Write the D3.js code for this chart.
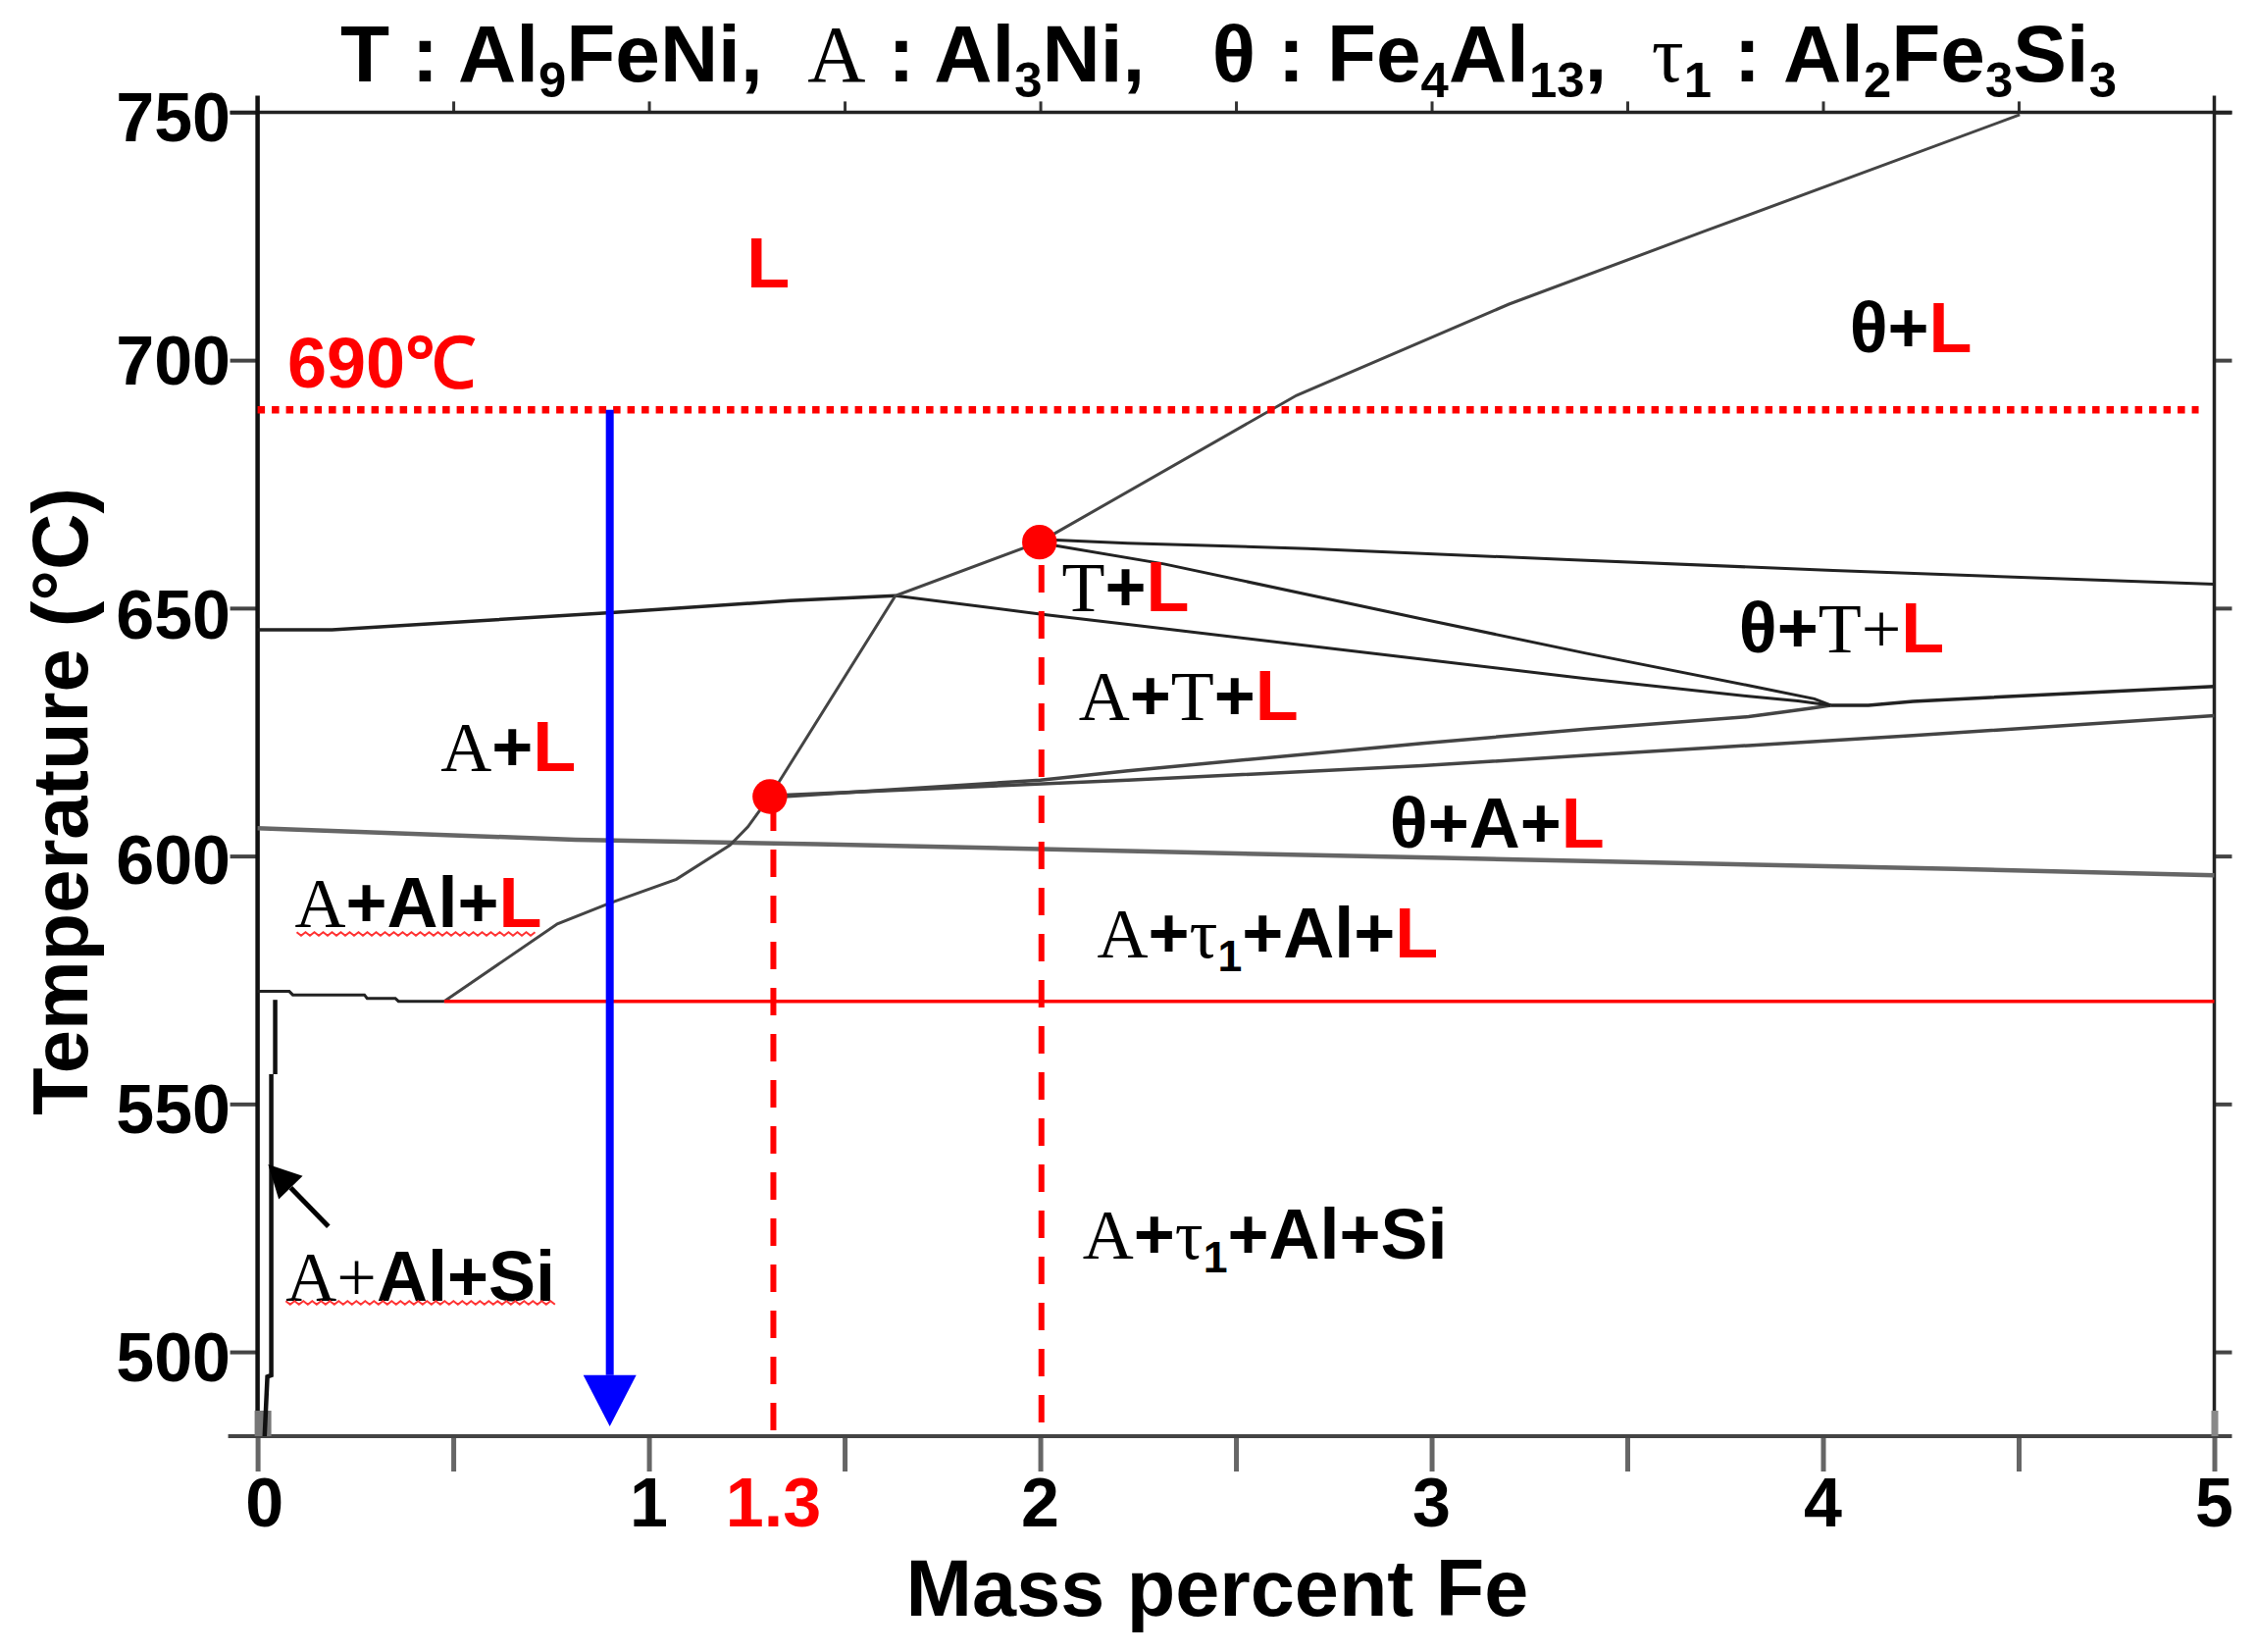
<!DOCTYPE html>
<html><head><meta charset="utf-8">
<script src="https://cdn.jsdelivr.net/npm/d3@7"></script>
<style>
html,body{margin:0;padding:0;background:#fff}
svg{display:block}
text{white-space:pre}
</style></head><body><svg id="c" width="2299" height="1684"></svg>
<script>
// ---- data (mass % Fe, temperature °C) ----
const xMajorTicks=[0,1,2,3,4,5];
const xAllTicks=[0,0.5,1,1.5,2,2.5,3,3.5,4,4.5,5];
const yTicks=[750,700,650,600,550,500];
const liquidusLow=[[0.477,570.7],[0.766,586.3],[0.9,590.5],[1.07,595.3],[1.207,602.2],[1.253,605.9],[1.309,612],[1.63,652.5],[1.998,663.3]];
const liquidusHigh=[[1.998,663.3],[2.655,692.9],[3.198,711.3],[3.694,725.9],[4.503,749.5]];
const line650=[[0,645.6],[0.19,645.6],[0.904,649.1],[1.36,651.5],[1.63,652.5]];
const lineDown=[[1.63,652.5],[2,648.8],[2.224,646.7],[2.976,639.7],[3.394,635.8],[3.81,632.2],[3.936,631.3],[4.02,630.4]];
const thetaTop=[[2.04,663.7],[2.224,663.1],[2.683,662],[3.365,659.7],[4.026,657.6],[5,654.8]];
const tLower=[[2.04,662.6],[2.316,658.9],[2.976,647.8],[3.394,640.9],[3.81,634.4],[3.978,631.7],[4.02,630.4]];
const rightUpper=[[4.02,630.4],[4.116,630.4],[4.23,631.2],[5,634.2]];
const riseUpper=[[1.345,612],[2,615.3],[2.224,617.2],[2.976,622.7],[3.394,625.6],[3.81,628.1],[3.895,629],[3.978,629.9],[4.02,630.4]];
const riseLower=[[1.345,612.3],[2.224,615.3],[2.976,618.2],[3.394,620.3],[3.81,622.3],[4.23,624.3],[5,628.3]];
const line606=[[0,605.6],[0.812,603.3],[1.43,602.4],[2.224,601],[3.03,599.6],[4.337,597.4],[5,596.1]];
const solvus=[[0,572.7],[0.081,572.7],[0.09,572],[0.273,572],[0.28,571.3],[0.352,571.3],[0.36,570.7],[0.477,570.7]];
const narrowUpper=[[0.045,571],[0.045,556]];
const narrowLower=[[0.035,556],[0.035,495.3],[0.025,495],[0.018,483]];
const eutectic=[[0.477,570.7],[5,570.7]];
const hold690=[[0,690],[4.96,690]];
const redDots=[[1.309,612],[1.998,663.3]];
const dropLines=[[1.318,610.6,484],[2.003,658.7,484]];
const coolingPath=[[0.9,690],[0.9,495.3]];
const coolingTip=[0.9,485];
const pointerArrow=[[0.181,525.3],[0.027,537.8]];
// label runs: b bold black, s serif black, r bold red, u subscript
const titleRuns=[["T : Al","b"],["9","u"],["FeNi,  ","b"],["A","s"],[" : Al","b"],["3","u"],["Ni,   θ : Fe","b"],["4","u"],["Al","b"],["13","u"],[",  ","b"],["τ","s"],["1","u"],[" : Al","b"],["2","u"],["Fe","b"],["3","u"],["Si","b"],["3","u"]];
const regionRuns=[
 [[["L","r"]],1.25,714.6],
 [[["690℃","r"]],0.076,694.5],
 [[["θ+","b"],["L","r"]],4.068,701.6],
 [[["T","s"],["+","b"],["L","r"]],2.055,649.3],
 [[["θ+","b"],["T+","s"],["L","r"]],3.785,641],
 [[["A","s"],["+","b"],["T","s"],["+","b"],["L","r"]],2.098,627.5],
 [[["A","s"],["+","b"],["L","r"]],0.468,617.2],
 [[["θ+A+","b"],["L","r"]],2.893,601.7],
 [[["A","s"],["+Al+","b"],["L","r"]],0.095,585.7],
 [[["A","s"],["+","b"],["τ","s"],["1","u"],["+Al+","b"],["L","r"]],2.145,579.6],
 [[["A","s"],["+","b"],["τ","s"],["1","u"],["+Al+Si","b"]],2.108,518.8],
 [[["A+","s"],["Al+Si","b"]],0.072,510.4]
];
const squiggles=[[0.1,0.72,584.3],[0.072,0.77,509.9]];

// ---- drawing ----
const svg=d3.select("#c");
const x=d3.scaleLinear().domain([0,5]).range([262.6,2257.5]);
const y=d3.scaleLinear().domain([750,483]).range([114.4,1464]);
const ARIAL='"Liberation Sans",Arial,sans-serif', TIMES='"Liberation Serif","Times New Roman",serif';
svg.append("rect").attr("width",2299).attr("height",1684).attr("fill","#fff");
const line=d3.line().x(d=>x(d[0])).y(d=>y(d[1]));

function axis(gen,tx,ty,color,w){
  const g=svg.append("g").attr("transform",`translate(${tx},${ty})`).call(gen);
  g.select(".domain").remove();
  g.selectAll("line").attr("stroke",color).attr("stroke-width",w);
  g.selectAll("text").remove();
  return g;
}
axis(d3.axisTop(x).tickValues(xAllTicks.slice(1,-1)).tickSize(11),0,y(750),"#333",3);
axis(d3.axisBottom(x).tickValues(xAllTicks).tickSize(36),0,y(483),"#666",5);
axis(d3.axisLeft(y).tickValues(yTicks).tickSize(28),x(0),0,"#444",4);
axis(d3.axisRight(y).tickValues(yTicks).tickSize(18),x(5),0,"#444",4);

// spines
const spine=(x1,y1,x2,y2,c,w)=>svg.append("line").attr("x1",x1).attr("y1",y1).attr("x2",x2).attr("y2",y2).attr("stroke",c).attr("stroke-width",w);
spine(x(0)-28,y(750),x(5)+18,y(750),"#222",3.5);
spine(x(0)-30,y(483),x(5)+18,y(483),"#444",4);
spine(x(0),y(750)-17,x(0),y(483),"#111",4.5);
spine(x(5),y(750)-17,x(5),y(483),"#222",3.5);
svg.append("rect").attr("x",x(0)-3).attr("y",y(483)-26).attr("width",17).attr("height",26).attr("fill","#777");
svg.append("rect").attr("x",x(5)-3).attr("y",y(483)-26).attr("width",7).attr("height",26).attr("fill","#888");

// phase boundaries
[[line606,"#666",4.5],[riseLower,"#444",3.5],[riseUpper,"#444",3.5],[solvus,"#222",3],
 [line650,"#222",3.5],[lineDown,"#222",3],[thetaTop,"#222",3],[tLower,"#222",3],[rightUpper,"#222",3.5],
 [liquidusLow,"#444",3],[liquidusHigh,"#444",3],[narrowUpper,"#111",4.5],[narrowLower,"#111",4.5]].forEach(([d,c,w])=>
  svg.append("path").attr("d",line(d)).attr("fill","none").attr("stroke",c).attr("stroke-width",w));

// red construction lines
svg.append("path").attr("d",line(eutectic)).attr("stroke","#f00").attr("stroke-width",3.5).attr("fill","none");
svg.append("path").attr("d",line(hold690)).attr("stroke","#f00").attr("stroke-width",7.5).attr("stroke-dasharray","7.5 7").attr("fill","none");
dropLines.forEach(d=>svg.append("line").attr("x1",x(d[0])).attr("x2",x(d[0])).attr("y1",y(d[1])).attr("y2",y(d[2]))
  .attr("stroke","#f00").attr("stroke-width",6).attr("stroke-dasharray","28 19"));
svg.selectAll("ellipse.dot").data(redDots).join("ellipse").attr("cx",d=>x(d[0])).attr("cy",d=>y(d[1])).attr("rx",17.7).attr("ry",17.7).attr("fill","#f00");

// cooling arrow
svg.append("path").attr("d",line(coolingPath)).attr("stroke","#00f").attr("stroke-width",8).attr("fill","none");
const cx=x(coolingTip[0]),tip=y(coolingTip[1]),base=y(coolingPath[1][1]);
svg.append("path").attr("d",`M${cx-27},${base}L${cx+27},${base}L${cx},${tip}Z`).attr("fill","#00f");

// pointer arrow
const [pa,pb]=pointerArrow;
const ax=x(pa[0]),ay=y(pa[1]),bx=x(pb[0]),by=y(pb[1]);
const ang=Math.atan2(by-ay,bx-ax),hl=33,hw=17;
const mx=bx-Math.cos(ang)*hl,my=by-Math.sin(ang)*hl;
spine(ax,ay,mx,my,"#000",5);
svg.append("path").attr("d",`M${bx},${by}L${mx-Math.sin(ang)*hw},${my+Math.cos(ang)*hw}L${mx+Math.sin(ang)*hw},${my-Math.cos(ang)*hw}Z`).attr("fill","#000");

// mixed-style text
function rich(runs,px,py,size,subDy){
  const t=svg.append("text").attr("x",px).attr("y",py).attr("font-size",size);
  let prevSub=false;
  runs.forEach(([s,k])=>{
    const sp=t.append("tspan").text(s);
    let dy=0;
    if(k==="u"&&!prevSub)dy=subDy; else if(k!=="u"&&prevSub)dy=-subDy;
    if(dy)sp.attr("dy",dy);
    prevSub=k==="u";
    sp.attr("font-family",k==="s"?TIMES:ARIAL).attr("font-weight",k==="s"?"normal":"bold")
      .attr("fill",k==="r"?"#f00":"#000");
    if(k==="u")sp.attr("font-size",size*0.62);
  });
  return t;
}
rich(titleRuns,347,83,82,16);
regionRuns.forEach(([runs,a,b])=>rich(runs,x(a),y(b),72,14));

// wavy underlines
squiggles.forEach(([a,b,t])=>{
  const n=Math.round((x(b)-x(a))/4.5);
  const w=d3.line().x(i=>x(a)+i*4.5).y(i=>y(t)+(i%2?1.8:-1.8));
  svg.append("path").attr("d",w(d3.range(n))).attr("fill","none").attr("stroke","#f33").attr("stroke-width",2);
});

// tick labels
const tickText=(s,px,py,anchor,fill)=>svg.append("text").text(s).attr("x",px).attr("y",py).attr("text-anchor",anchor)
  .attr("font-family",ARIAL).attr("font-weight","bold").attr("font-size",70).attr("fill",fill||"#000");
const yLabelNudge=d3.scaleOrdinal().domain(yTicks).range([29.6,25,31,28,30,30]);
yTicks.forEach(v=>tickText(String(v),235,y(v)+yLabelNudge(v),"end"));
xMajorTicks.forEach(v=>tickText(String(v),x(v)+(v===0?7:0),1556,"middle"));
tickText("1.3",x(1.318),1556,"middle","#f00");

// axis titles
svg.append("text").text("Mass percent Fe").attr("x",1241).attr("y",1647).attr("text-anchor","middle")
  .attr("font-family",ARIAL).attr("font-weight","bold").attr("font-size",81);
svg.append("text").text("Temperature (°C)").attr("transform","translate(89,817) rotate(-90)").attr("text-anchor","middle")
  .attr("font-family",ARIAL).attr("font-weight","bold").attr("font-size",79.5);
</script></body></html>
